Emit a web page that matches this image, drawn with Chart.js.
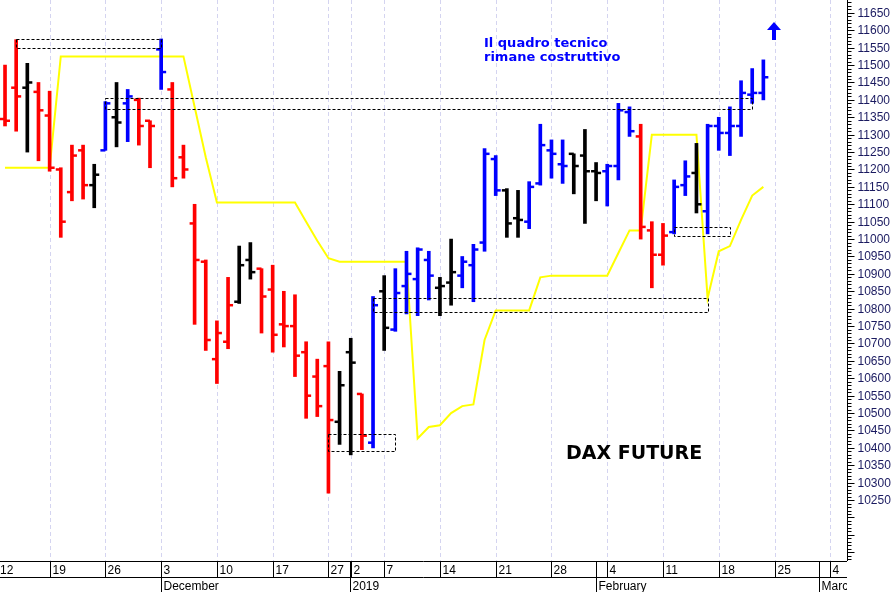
<!DOCTYPE html>
<html>
<head>
<meta charset="utf-8">
<script src="https://cdn.jsdelivr.net/npm/chart.js@4.4.1/dist/chart.umd.min.js"></script>
<style>
  html, body { margin: 0; padding: 0; background: #fff; }
  #wrap { width: 896px; height: 592px; position: relative; }
</style>
</head>
<body>
<div id="wrap"><canvas id="dax"></canvas></div>
<script>
// daily bars (index 0 = first visible session)
const highs  = [11500,11573,11505,11450,11425,11205,11270,11270,11215,11395,11450,11430,11405,11340,11575,11450,11270,11100,10940,10765,10890,10980,10990,10915,10925,10850,10840,10705,10655,10705,10620,10715,10555,10835,10895,10915,10965,10975,10965,10890,11000,10950,10985,11260,11240,11145,11140,11165,11330,11285,11285,11245,11315,11220,11215,11390,11380,11330,11050,11045,11170,11225,11275,11330,11350,11380,11455,11490,11515];
const lows   = [11325,11310,11250,11225,11195,11005,11110,11115,11090,11255,11265,11280,11270,11205,11430,11150,11175,10755,10680,10585,10685,10815,10885,10730,10675,10690,10605,10485,10490,10270,10410,10380,10395,10400,10680,10735,10785,10780,10825,10780,10810,10860,10820,10965,11125,11005,11005,11030,11155,11175,11160,11130,11045,11110,11095,11170,11295,11000,10860,10925,11015,11125,11075,11015,11255,11240,11295,11390,11400];
const opens  = [11345,11435,11435,11423,11355,11200,11135,11255,11155,11255,11350,11390,11400,11340,11545,11430,11235,11045,10935,10655,10705,10820,10940,10915,10855,10755,10750,10675,10605,10635,10475,10675,10555,10415,10850,10740,10865,10885,10940,10860,10875,10895,10925,10990,11230,11140,11060,11050,11160,11255,11215,11245,11240,11195,11195,11210,11365,11295,11025,10955,11020,11155,11190,11080,11325,11305,11325,11415,11420];
const closes = [11340,11410,11450,11370,11205,11050,11240,11155,11185,11390,11335,11410,11325,11325,11480,11175,11200,10940,10710,10730,10810,10925,10905,10835,10725,10750,10665,10550,10520,10480,10580,10645,10435,10810,10745,10845,10900,10970,10895,10865,10905,10935,10970,11245,11140,11045,11055,11150,11270,11245,11210,11210,11195,11190,11210,11370,11310,11035,10955,11010,11150,11180,11100,11325,11305,11325,11420,11420,11465];
// bar colour signal: r = red, k = black, b = blue
const signal = "rrkrrrrrkbkbrrbrrrrrrkkrrrrrrrkkrbkbbbbkkbbbbkkbbbbkkkbbbrrrbbkbbbbbb";
const trendLine = [11205,11205,11205,11205,11205,11525,11525,11525,11525,11525,11525,11525,11525,11525,11525,11525,11525,11380,11235,11105,11105,11105,11105,11105,11105,11105,11105,11050,10995,10945,10935,10935,10935,10935,10935,10935,10935,10427,10460,10465,10500,10520,10525,10710,10795,10795,10795,10795,10890,10895,10895,10895,10895,10895,10895,10960,11025,11025,11300,11300,11300,11300,11300,10830,10965,10980,11055,11125,11150];
// dotted zones: [from bar, to bar, top, bottom]
const zones = [[1,14,11575,11550],[9,67,11405,11375],[29,35,10440,10390],[33,63,10830,10790],[60,65,11035,11010]];
// time axis
const dayTicks  = [-1,4,9,14,19,24,29,31,34,39,44,49,54,59,64,69,74];
const dayLabels = ["12","19","26","3","10","17","27","2","7","14","21","28","4","11","18","25","4"];
const monthTicks  = [14,31,53,73];
const monthLabels = ["December","2019","February","March"];
const priceMin = 10075, priceMax = 11687;

const colorOf = { r: "#ff0000", k: "#000000", b: "#0000ff" };
const barColors = signal.split("").map((c) => colorOf[c]);

const overlay = {
  id: "overlay",
  beforeDatasetsDraw(chart) {
    const { ctx, chartArea: a, scales: { x } } = chart;
    ctx.save();
    ctx.strokeStyle = "#d4d4f0";
    ctx.lineWidth = 1;
    ctx.setLineDash([4, 3]);
    dayTicks.forEach((t) => {
      const px = Math.round(x.getPixelForValue(t)) + 0.5;
      ctx.beginPath(); ctx.moveTo(px, a.top); ctx.lineTo(px, a.bottom); ctx.stroke();
    });
    ctx.restore();
  },
  afterDatasetsDraw(chart) {
    const { ctx, chartArea: a, scales: { x, y } } = chart;
    ctx.save();
    // open / close ticks
    ctx.lineWidth = 2.5;
    highs.forEach((h, i) => {
      const px = x.getPixelForValue(i);
      ctx.strokeStyle = barColors[i];
      const yo = y.getPixelForValue(opens[i]);
      const yc = y.getPixelForValue(closes[i]);
      ctx.beginPath(); ctx.moveTo(px - 5, yo); ctx.lineTo(px, yo); ctx.stroke();
      ctx.beginPath(); ctx.moveTo(px, yc); ctx.lineTo(px + 5, yc); ctx.stroke();
    });
    // dotted zones
    ctx.strokeStyle = "#000";
    ctx.lineWidth = 1;
    ctx.setLineDash([3, 2]);
    zones.forEach(([i0, i1, top, bot]) => {
      const x0 = Math.round(x.getPixelForValue(i0)) + 0.5;
      const x1 = Math.round(x.getPixelForValue(i1)) + 0.5;
      const y0 = Math.round(y.getPixelForValue(top)) + 0.5;
      const y1 = Math.round(y.getPixelForValue(bot)) + 0.5;
      ctx.strokeRect(x0, y0, x1 - x0, y1 - y0);
    });
    ctx.setLineDash([]);
    // notes
    ctx.fillStyle = "#0000ff";
    ctx.font = "bold 13px 'DejaVu Sans'";
    ctx.textBaseline = "middle";
    ctx.fillText("Il quadro tecnico", 484, 44);
    ctx.fillText("rimane costruttivo", 484, 58);
    ctx.fillStyle = "#000";
    ctx.font = "bold 19px 'DejaVu Sans'";
    ctx.fillText("DAX FUTURE", 566, 454);
    // arrow
    ctx.fillStyle = "#0000ff";
    ctx.beginPath();
    ctx.moveTo(774, 22); ctx.lineTo(781, 30); ctx.lineTo(776, 30); ctx.lineTo(776, 40);
    ctx.lineTo(772, 40); ctx.lineTo(772, 30); ctx.lineTo(767, 30); ctx.closePath(); ctx.fill();
    // right price axis
    ctx.strokeStyle = "#000";
    ctx.lineWidth = 1;
    const ax = a.right + 0.5;
    ctx.beginPath(); ctx.moveTo(ax, 0); ctx.lineTo(ax, a.bottom); ctx.stroke();
    ctx.font = "12px 'Liberation Sans'";
    ctx.fillStyle = "#1a1a60";
    ctx.textBaseline = "middle";
    for (let v = 10080; v <= 11680; v += 10) {
      const py = Math.round(y.getPixelForValue(v)) + 0.5;
      if (py > a.bottom) continue;
      const major = v % 50 === 0;
      ctx.beginPath(); ctx.moveTo(ax, py); ctx.lineTo(ax + (major ? 7 : 4), py); ctx.stroke();
      if (major && v >= 10250 && v <= 11650) ctx.fillText(String(v), ax + 10, py);
    }
    // bottom time axis
    const w = a.right;
    ctx.beginPath();
    ctx.moveTo(0, a.bottom + 0.5); ctx.lineTo(w, a.bottom + 0.5);
    ctx.moveTo(0, a.bottom + 16.5); ctx.lineTo(w, a.bottom + 16.5);
    ctx.stroke();
    ctx.beginPath(); ctx.rect(0, a.bottom, w, 40); ctx.clip();
    ctx.fillStyle = "#000";
    ctx.textBaseline = "alphabetic";
    dayTicks.forEach((t, i) => {
      const px = Math.round(x.getPixelForValue(t)) + 0.5;
      ctx.beginPath(); ctx.moveTo(px, a.bottom); ctx.lineTo(px, a.bottom + 16); ctx.stroke();
      ctx.fillText(dayLabels[i], Math.max(0, px + 2), a.bottom + 13);
    });
    monthTicks.forEach((t, i) => {
      const px = Math.round(x.getPixelForValue(t - 0.05)) + 0.5;
      ctx.beginPath(); ctx.moveTo(px, a.bottom); ctx.lineTo(px, a.bottom + 31); ctx.stroke();
      ctx.fillText(monthLabels[i], px + 2, a.bottom + 29);
    });
    ctx.restore();
  },
};

new Chart(document.getElementById("dax"), {
  data: {
    datasets: [
      {
        type: "bar",
        data: highs.map((h, i) => ({ x: i, y: [lows[i], h] })),
        backgroundColor: barColors,
        barThickness: 3,
        grouped: false,
        order: 1,
      },
      {
        type: "line",
        data: trendLine.map((v, i) => ({ x: i, y: v })),
        borderColor: "#ffff00",
        borderWidth: 2,
        pointRadius: 0,
        tension: 0,
        order: 2,
      },
    ],
  },
  options: {
    responsive: true,
    maintainAspectRatio: false,
    animation: false,
    events: [],
    layout: { padding: { right: 49, bottom: 31 } },
    plugins: { legend: { display: false }, tooltip: { enabled: false } },
    scales: {
      x: { type: "linear", offset: false, min: -0.45, max: 75.5, display: false },
      y: { min: priceMin, max: priceMax, display: false },
    },
  },
  plugins: [overlay],
});
</script>
</body>
</html>
